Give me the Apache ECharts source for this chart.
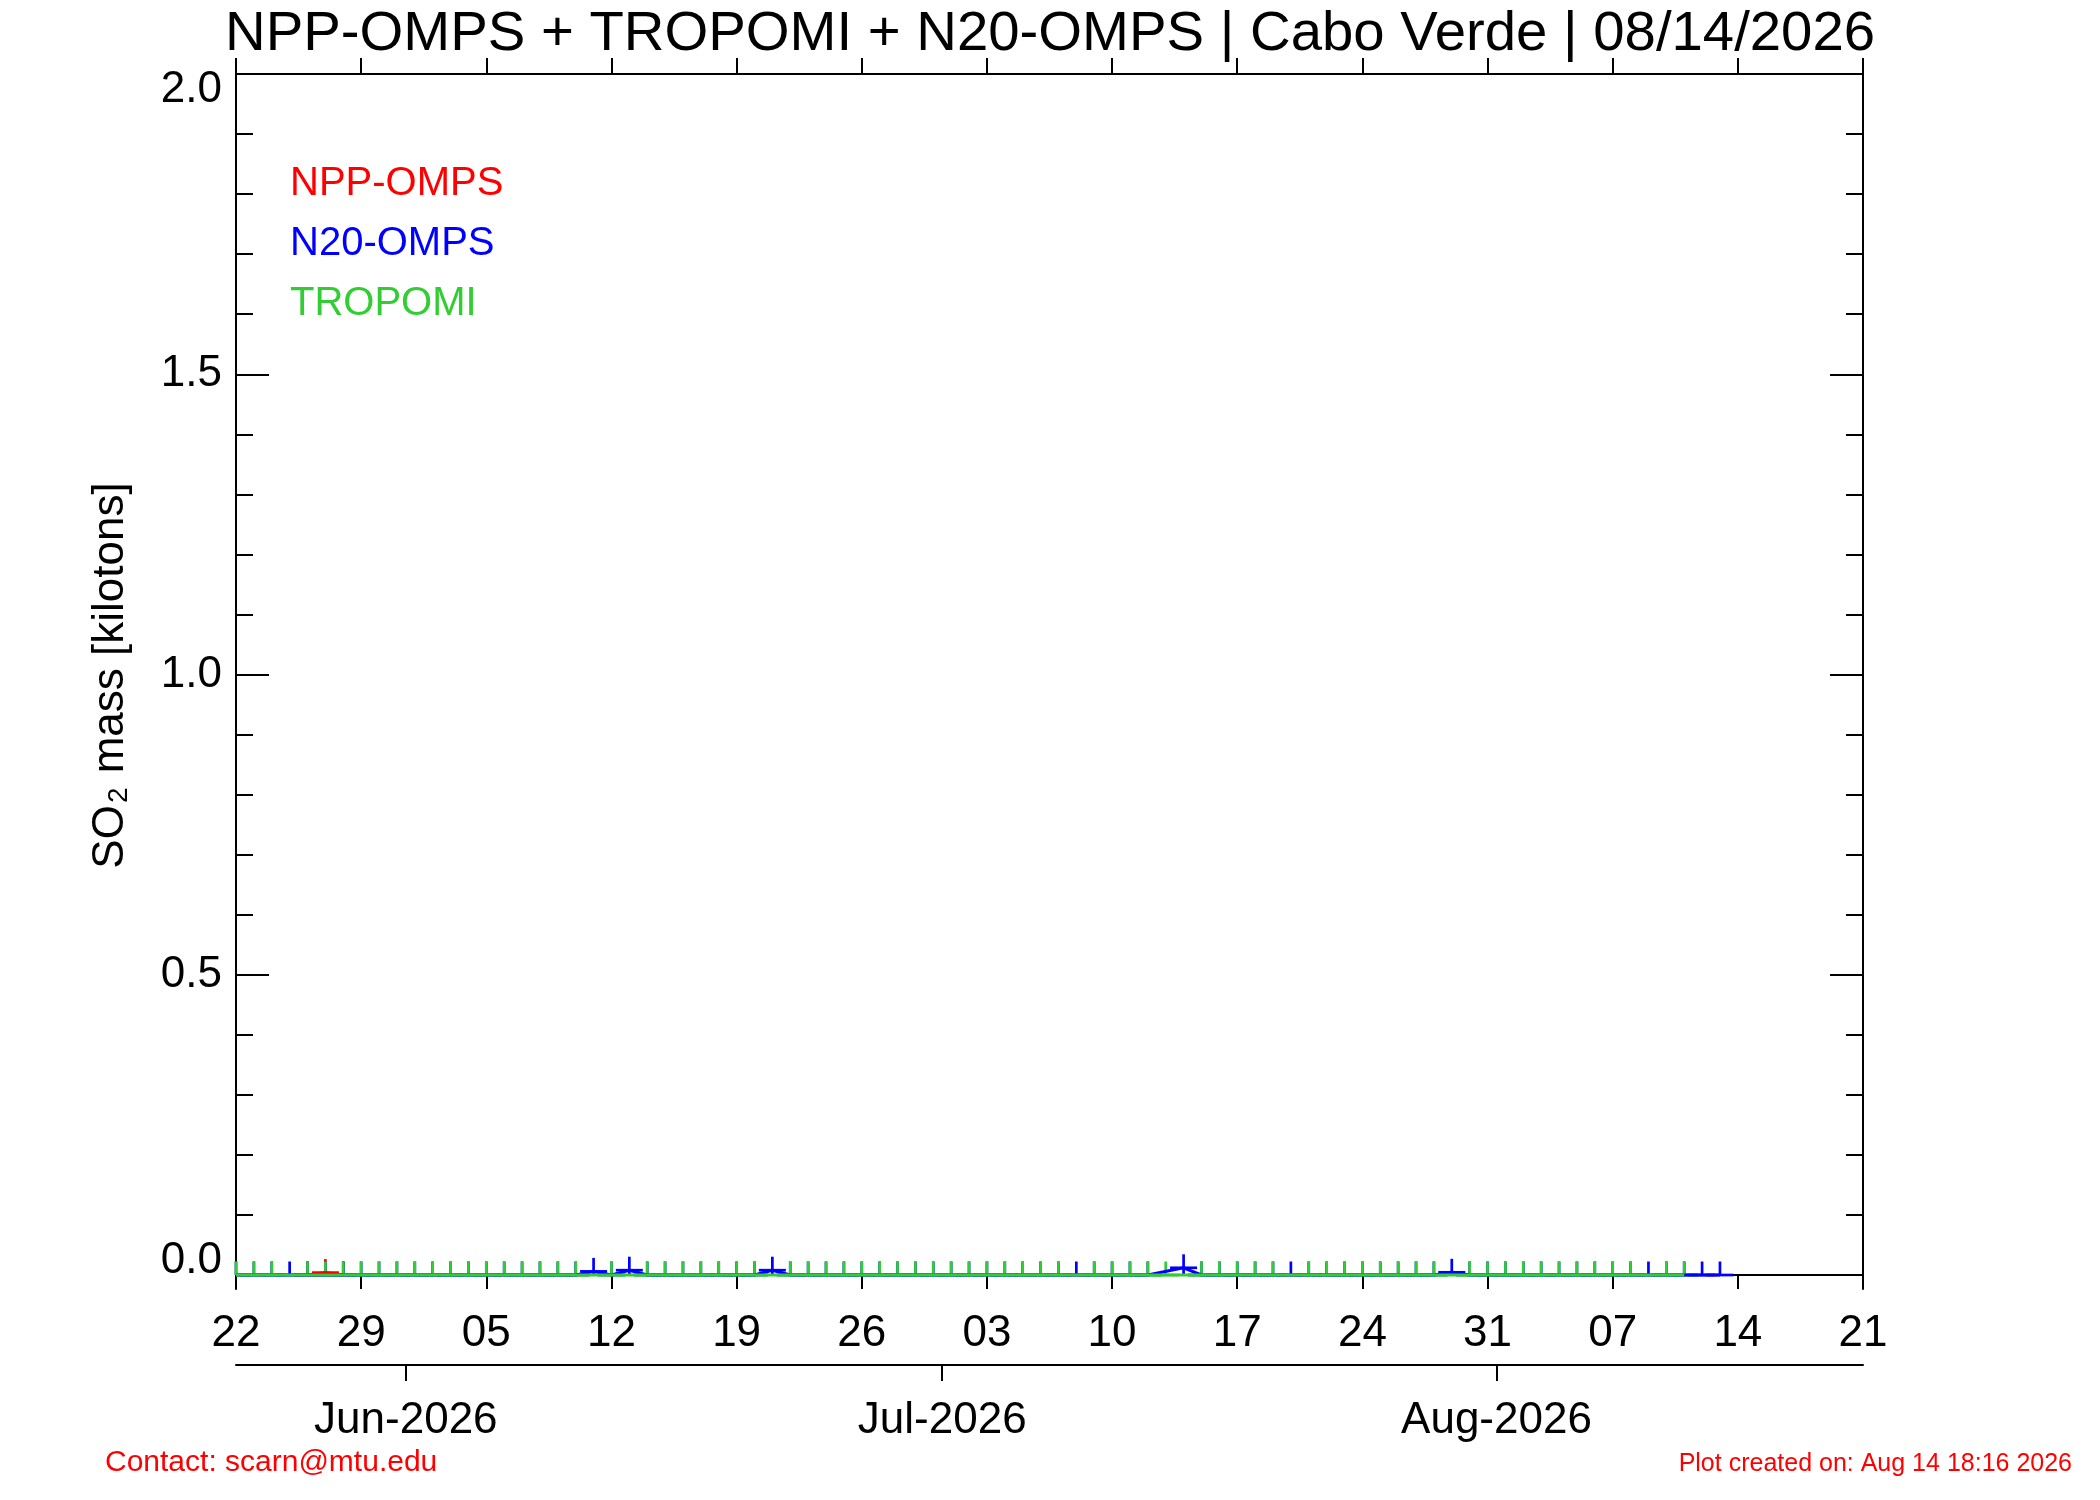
<!DOCTYPE html>
<html>
<head>
<meta charset="utf-8">
<script src="https://cdn.jsdelivr.net/npm/echarts@6.0.0/dist/echarts.min.js"></script>
<style>
html,body{margin:0;padding:0;background:#fff;}
#chart{width:2100px;height:1500px;}
</style>
</head>
<body>
<div id="chart"></div>
<script>
// ---- data (day index 0 = 22 May 2026, one value per day, null = no observation) ----
var dayTickValues = [0, 7, 14, 21, 28, 35, 42, 49, 56, 63, 70, 77, 84, 91];
var dayTickLabels = ['22','29','05','12','19','26','03','10','17','24','31','07','14','21'];
var monthTickValues = [9.5, 39.5, 70.5];
var monthTickLabels = ['Jun-2026', 'Jul-2026', 'Aug-2026'];
var yMajorTicks = [0, 0.5, 1.0, 1.5, 2.0];
var yMinorTicks = [0.1,0.2,0.3,0.4,0.6,0.7,0.8,0.9,1.1,1.2,1.3,1.4,1.6,1.7,1.8,1.9];

var nppOmps = [null,null,null,null,0,0.004,0];

var n20Omps = [
  0,0,0,0,0,0,0,0,0,0,
  0,0,0,0,0,0,0,0,0,0,
  0.006,0,0.008,0,0,0,0,0,0,0,
  0.008,0,0,0,0,0,0,0,0,0,
  0,0,0,0,0,0,0,0,0,0,
  0,0,null,0.012,0,0,0,0,0,0,
  0,0,0,0,0,0,0,0,0.0045,0,
  0,0,0,0,0,0,0,0,0,0,
  0,0,0,0
];

var tropomi = [
  0,0,0,null,0,0,0,0,0,0,
  0,0,0,0,0,0,0,0,0,0,
  null,0,null,0,0,0,0,0,0,0,
  null,0,0,0,0,0,0,0,0,0,
  0,0,0,0,0,0,0,null,0,0,
  0,0,0,null,0,0,0,0,0,null,
  0,0,0,0,0,0,0,0,null,0,
  0,0,0,0,0,0,0,0,0,null,
  0,0
];

var FONT = '"Liberation Sans", Helvetica, Arial, sans-serif';
var yMin = -0.0233, yMax = 2.0;

function toPairs(arr) {
  var out = [];
  arr.forEach(function (v, i) { if (v !== null) out.push([i, v]); });
  return out;
}

function lineSeries(name, color, arr) {
  return {
    type: 'line', name: name, xAxisIndex: 0, yAxisIndex: 0,
    data: toPairs(arr), showSymbol: false, symbol: 'none',
    lineStyle: { color: color, width: 3 }, itemStyle: { color: color },
    animation: false, silent: true
  };
}

function markerSeries(name, color, arr) {
  return {
    type: 'custom', name: name, xAxisIndex: 0, yAxisIndex: 0,
    data: toPairs(arr), clip: false, animation: false, silent: true,
    itemStyle: { color: color },
    renderItem: function (params, api) {
      var x = api.value(0), v = api.value(1);
      var p = api.coord([x, v]);
      var z = api.coord([x, 0])[1];
      var cs = params.coordSys;
      var h = 13.5;
      return {
        type: 'group',
        children: [
          { type: 'line', shape: { x1: p[0], y1: p[1] - h, x2: p[0], y2: Math.min(p[1] + h, z) },
            style: { stroke: color, lineWidth: 2.7 } },
          { type: 'line', shape: { x1: Math.max(p[0] - h, cs.x), y1: p[1],
                                   x2: Math.min(p[0] + h, cs.x + cs.width), y2: p[1] },
            style: { stroke: color, lineWidth: 2.7 } }
        ]
      };
    }
  };
}

var RED = '#ff0000', BLUE = '#0000ff', GREEN = '#32cd32';
var axisColor = '#000000';

var chart = echarts.init(document.getElementById('chart'), null, { renderer: 'canvas' });

var option = {
  backgroundColor: '#ffffff',
  animation: false,
  title: [
    { text: 'NPP-OMPS + TROPOMI + N20-OMPS | Cabo Verde | 08/14/2026', left: 'center', top: 1,
      textStyle: { fontFamily: FONT, fontSize: 56.3, fontWeight: 'normal', color: '#000' } },
    { text: 'Contact: scarn@mtu.edu', left: 100, top: 1443,
      textStyle: { fontFamily: FONT, fontSize: 30, fontWeight: 'normal', color: RED } },
    { text: 'Plot created on: Aug 14 18:16 2026', right: 23, top: 1447,
      textStyle: { fontFamily: FONT, fontSize: 25, fontWeight: 'normal', color: RED } }
  ],
  legend: {
    orient: 'vertical', left: 279, top: 159, icon: 'none', itemWidth: 1, itemHeight: 40, itemGap: 20,
    selectedMode: false,
    textStyle: { fontFamily: FONT, fontSize: 40, lineHeight: 40 },
    data: [
      { name: 'NPP-OMPS', textStyle: { color: RED } },
      { name: 'N20-OMPS', textStyle: { color: BLUE } },
      { name: 'TROPOMI', textStyle: { color: GREEN } }
    ]
  },
  grid: { left: 236, right: 237, top: 74, bottom: 211, containLabel: false, outerBoundsMode: 'none' },
  xAxis: [
    { type: 'value', position: 'bottom', min: 0, max: 91, interval: 7,
      axisLine: { show: true, onZero: true, onZeroAxisIndex: 0, lineStyle: { color: axisColor, width: 2 } },
      axisTick: { show: true, inside: false, length: 14, lineStyle: { color: axisColor, width: 2 } },
      axisLabel: { show: true, margin: 23, fontFamily: FONT, fontSize: 44, color: '#000',
        formatter: function (v) { return dayTickLabels[dayTickValues.indexOf(v)]; } },
      splitLine: { show: false } },
    { type: 'value', position: 'top', min: 0, max: 91, interval: 7,
      axisLine: { show: true, onZero: false, lineStyle: { color: axisColor, width: 2 } },
      axisTick: { show: true, inside: false, length: 16, lineStyle: { color: axisColor, width: 2 } },
      axisLabel: { show: false }, splitLine: { show: false } },
    { type: 'value', position: 'bottom', offset: 76, min: 0, max: 91,
      axisLine: { show: true, onZero: false, lineStyle: { color: axisColor, width: 2 } },
      axisTick: { show: true, inside: false, length: 16, customValues: monthTickValues,
        lineStyle: { color: axisColor, width: 2 } },
      axisLabel: { show: true, margin: 34, fontFamily: FONT, fontSize: 44, color: '#000',
        customValues: monthTickValues,
        formatter: function (v) { return monthTickLabels[monthTickValues.indexOf(v)]; } },
      splitLine: { show: false } }
  ],
  yAxis: [
    { type: 'value', position: 'left', min: yMin, max: yMax,
      name: '{a|SO}{s|2}{a| mass [kilotons]}', nameLocation: 'middle', nameGap: 103, nameRotate: 90,
      nameTextStyle: { padding: [0, 0, 0, 12], rich: {
        a: { fontFamily: FONT, fontSize: 44, color: '#000' },
        s: { fontFamily: FONT, fontSize: 28, color: '#000', verticalAlign: 'bottom', padding: [0, 2, 0, 2] } } },
      axisLine: { show: true, onZero: false, lineStyle: { color: axisColor, width: 2 } },
      axisTick: { show: true, inside: true, length: 33, customValues: yMajorTicks,
        lineStyle: { color: axisColor, width: 2 } },
      axisLabel: { show: true, margin: 14, customValues: yMajorTicks, fontFamily: FONT, fontSize: 44, color: '#000',
        formatter: function (v) {
          var s = v.toFixed(1);
          if (v === 0) return '{lo|' + s + '}';
          if (v === 2) return '{hi|' + s + '}';
          return s;
        },
        rich: {
          lo: { fontFamily: FONT, fontSize: 44, color: '#000', padding: [0, 0, 28, 0] },
          hi: { fontFamily: FONT, fontSize: 44, color: '#000', padding: [31, 0, 0, 0] }
        } },
      splitLine: { show: false } },
    { type: 'value', position: 'left', min: yMin, max: yMax,
      axisLine: { show: false, onZero: false },
      axisTick: { show: true, inside: true, length: 17, customValues: yMinorTicks,
        lineStyle: { color: axisColor, width: 2 } },
      axisLabel: { show: false }, splitLine: { show: false } },
    { type: 'value', position: 'right', min: yMin, max: yMax,
      axisLine: { show: true, onZero: false, lineStyle: { color: axisColor, width: 2 } },
      axisTick: { show: true, inside: true, length: 33, customValues: yMajorTicks,
        lineStyle: { color: axisColor, width: 2 } },
      axisLabel: { show: false }, splitLine: { show: false } },
    { type: 'value', position: 'right', min: yMin, max: yMax,
      axisLine: { show: false, onZero: false },
      axisTick: { show: true, inside: true, length: 17, customValues: yMinorTicks,
        lineStyle: { color: axisColor, width: 2 } },
      axisLabel: { show: false }, splitLine: { show: false } }
  ],
  series: [
    lineSeries('NPP-OMPS', RED, nppOmps),
    markerSeries('NPP-OMPS', RED, nppOmps),
    lineSeries('N20-OMPS', BLUE, n20Omps),
    markerSeries('N20-OMPS', BLUE, n20Omps),
    lineSeries('TROPOMI', GREEN, tropomi),
    markerSeries('TROPOMI', GREEN, tropomi)
  ]
};

chart.setOption(option);
</script>
</body>
</html>
